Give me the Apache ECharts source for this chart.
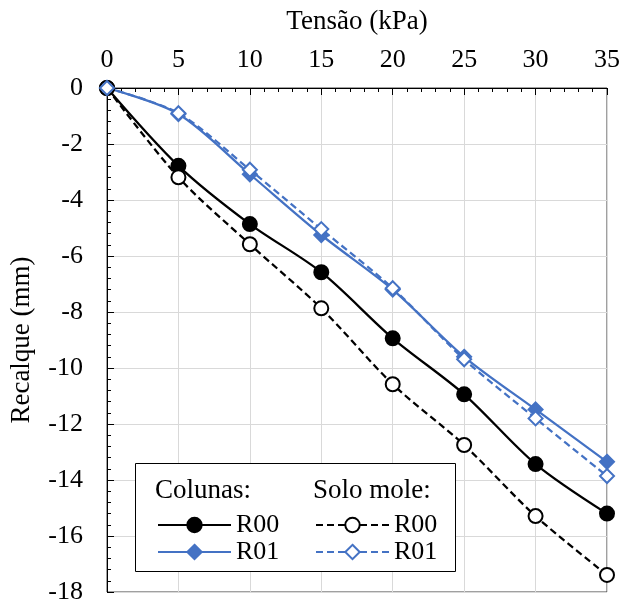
<!DOCTYPE html>
<html><head><meta charset="utf-8">
<script src="https://cdn.jsdelivr.net/npm/echarts@6/dist/echarts.min.js"></script>
<style>html,body{margin:0;padding:0;background:#fff}#c{width:623px;height:605px}</style>
</head><body><div id="c"></div>
<script>
const tensao = [0, 5, 10, 15, 20, 25, 30, 35];
const colunasR00 = [0, -2.78, -4.86, -6.58, -8.94, -10.94, -13.43, -15.2];
const colunasR01 = [0, -0.93, -3.08, -5.25, -7.2, -9.6, -11.48, -13.35];
const soloR00 = [0, -3.19, -5.58, -7.87, -10.58, -12.75, -15.29, -17.39];
const soloR01 = [0, -0.9, -2.92, -5.04, -7.15, -9.69, -11.8, -13.86];
const xTitle = 'Tensão (kPa)';
const yTitle = 'Recalque (mm)';
const headerLeft = 'Colunas:';
const headerRight = 'Solo mole:';

const FONT = 'Liberation Serif';
const BLUE = '#4472C4';
const pairs = arr => tensao.map((x, i) => [x, arr[i]]);

const chart = echarts.init(document.getElementById('c'));
const mk = (name, data, color, dashed, filled, symbol) => ({
  name, type: 'line', data: pairs(data), smooth: 0.3,
  symbol, symbolSize: 14,
  lineStyle: { color, width: 2.25, type: dashed ? [7, 4] : 'solid' },
  itemStyle: { color: filled ? color : '#fff', borderColor: color, borderWidth: 2 },
  emphasis: { disabled: true }, z: 2
});

chart.setOption({
  animation: false,
  textStyle: { fontFamily: FONT },
  grid: { left: 107, top: 88, width: 500, height: 504, show: true, borderColor: '#404040', borderWidth: 1,
          containLabel: false, outerBoundsMode: 'none' },
  xAxis: {
    type: 'value', position: 'top', min: 0, max: 35, interval: 5,
    name: xTitle, nameLocation: 'middle', nameGap: 53,
    nameTextStyle: { fontSize: 27, color: '#000', fontFamily: FONT },
    axisLine: { show: true, lineStyle: { color: '#000', width: 1 } },
    axisTick: { show: true, inside: true, length: 7, lineStyle: { color: '#000' } },
    minorTick: { show: true, splitNumber: 5, length: 4, lineStyle: { color: '#000' } },
    axisLabel: { fontSize: 26, color: '#000', margin: 15, fontFamily: FONT },
    splitLine: { show: true, lineStyle: { color: '#d9d9d9', width: 1 } }
  },
  yAxis: {
    type: 'value', min: -18, max: 0, interval: 2,
    name: yTitle, nameLocation: 'middle', nameGap: 72, nameRotate: 90,
    nameTextStyle: { fontSize: 27, color: '#000', fontFamily: FONT },
    axisLine: { show: true, onZero: false, lineStyle: { color: '#000', width: 1 } },
    axisTick: { show: true, inside: true, length: 7, lineStyle: { color: '#000' } },
    minorTick: { show: true, splitNumber: 5, length: 4, lineStyle: { color: '#000' } },
    axisLabel: { fontSize: 26, color: '#000', margin: 24, fontFamily: FONT },
    splitLine: { show: true, lineStyle: { color: '#d9d9d9', width: 1 } }
  },
  legend: [
    { data: ['Colunas R00', 'Colunas R01'], orient: 'vertical', left: 157, top: 512, padding: 0,
      itemWidth: 73, itemHeight: 18, itemGap: 1, selectedMode: false,
      formatter: n => n.split(' ').pop(),
      textStyle: { fontSize: 26, lineHeight: 26, color: '#000', fontFamily: FONT }, z: 6 },
    { data: ['Solo mole R00', 'Solo mole R01'], orient: 'vertical', left: 315, top: 512, padding: 0,
      itemWidth: 73, itemHeight: 18, itemGap: 1, selectedMode: false,
      formatter: n => n.split(' ').pop(),
      textStyle: { fontSize: 26, lineHeight: 26, color: '#000', fontFamily: FONT }, z: 6 }
  ],
  graphic: [
    { type: 'rect', z: 3, shape: { x: 135.5, y: 463.5, width: 320, height: 108 },
      style: { fill: '#fff', stroke: '#000', lineWidth: 1 } },
    { type: 'text', z: 5, x: 155, y: 491, style: { text: headerLeft, font: '27px ' + FONT, fill: '#000', textVerticalAlign: 'middle' } },
    { type: 'text', z: 5, x: 313, y: 491, style: { text: headerRight, font: '27px ' + FONT, fill: '#000', textVerticalAlign: 'middle' } }
  ],
  series: [
    mk('Colunas R00', colunasR00, '#000', false, true, 'circle'),
    mk('Colunas R01', colunasR01, BLUE, false, true, 'diamond'),
    mk('Solo mole R00', soloR00, '#000', true, false, 'circle'),
    mk('Solo mole R01', soloR01, BLUE, true, false, 'diamond')
  ]
});
</script></body></html>
